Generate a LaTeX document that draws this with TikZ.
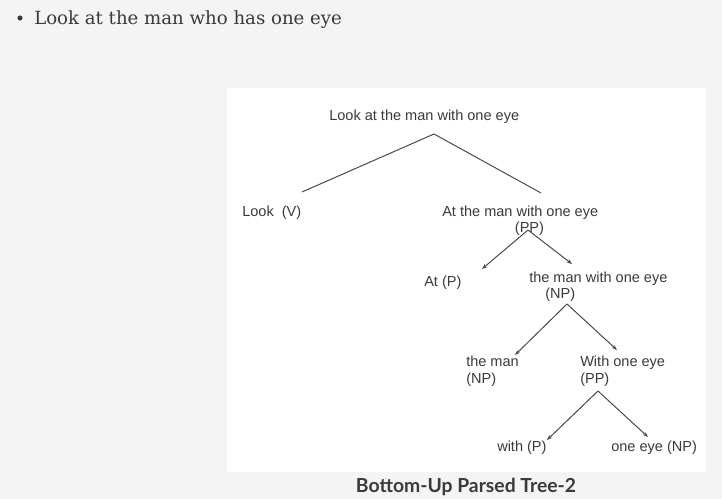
\documentclass[tikz,border=0pt]{standalone}
\usepackage{fontspec}
\setmainfont{Liberation Sans}
\newfontfamily\bulletfont{DejaVu Serif}
\newfontfamily\capfont{Lato}
\usetikzlibrary{arrows.meta}
\definecolor{pagegray}{HTML}{F4F4F4}
\definecolor{inkgray}{HTML}{3A3A3A}
\definecolor{linegray}{HTML}{4A4A4A}

\begin{document}
\begin{tikzpicture}[x=0.75pt,y=-0.75pt,
  lbl/.style={anchor=base west,inner sep=0pt,align=left,text=inkgray,
    font=\fontsize{10.9}{12.5}\selectfont},
  edge/.style={draw=linegray,line width=0.75pt},
  arr/.style={edge,-{Stealth[length=4pt,width=3pt]}}]
\fill[pagegray] (0,0) rectangle (722,499);
\useasboundingbox (0,0) rectangle (722,499);
\fill[white] (227,88) rectangle (706,472);
% heading line
\fill[inkgray] (20,18) circle (2.6);
\node[anchor=base west,inner sep=0pt,text=inkgray,font=\bulletfont\fontsize{13.6}{16}\selectfont]
  (sent) at (34,25) {Look at the man who has one eye};
% tree (two-line labels sit on their last line)
\node[lbl] (root) at (329,121) {Look at the man with one eye};
\node[lbl] (look) at (242,217) {Look\ \ (V)};
\node[lbl] (pp1) at (442,233) {At the man with one eye\\\hspace*{54.5pt}(PP)};
\node[lbl] (at) at (424,287) {At (P)};
\node[lbl] (np1) at (529,299) {the man with one eye\\\hspace*{12pt}(NP)};
\node[lbl] (man) at (466,383) {the man\\(NP)};
\node[lbl] (pp2) at (580,383) {With one eye\\(PP)};
\node[lbl] (with) at (497,451) {with (P)};
\node[lbl] (eye) at (611,451) {one eye (NP)};
% ends of the connectors
\coordinate (r-top) at (434,134);
\coordinate (look-end) at (302,192);
\coordinate (pp1-end) at (541,193);
\coordinate (pp1-top) at (528,230);
\coordinate (at-end) at (482,269);
\coordinate (np1-end) at (572,264);
\coordinate (np1-top) at (567,304);
\coordinate (man-end) at (515,355);
\coordinate (pp2-end) at (617,350);
\coordinate (pp2-top) at (598,391);
\coordinate (with-end) at (547,440);
\coordinate (eye-end) at (648,437);
\draw[edge] (look-end) -- (r-top) -- (pp1-end);
\draw[arr] (pp1-top) -- (at-end);
\draw[arr] (pp1-top) -- (np1-end);
\draw[arr] (np1-top) -- (man-end);
\draw[arr] (np1-top) -- (pp2-end);
\draw[arr] (pp2-top) -- (with-end);
\draw[arr] (pp2-top) -- (eye-end);
% caption
\node[anchor=base,inner sep=0pt,text=inkgray,font=\capfont\bfseries\fontsize{14.5}{16}\selectfont]
  (cap) at (466,492) {Bottom-Up Parsed Tree-2};
\end{tikzpicture}
\end{document}
